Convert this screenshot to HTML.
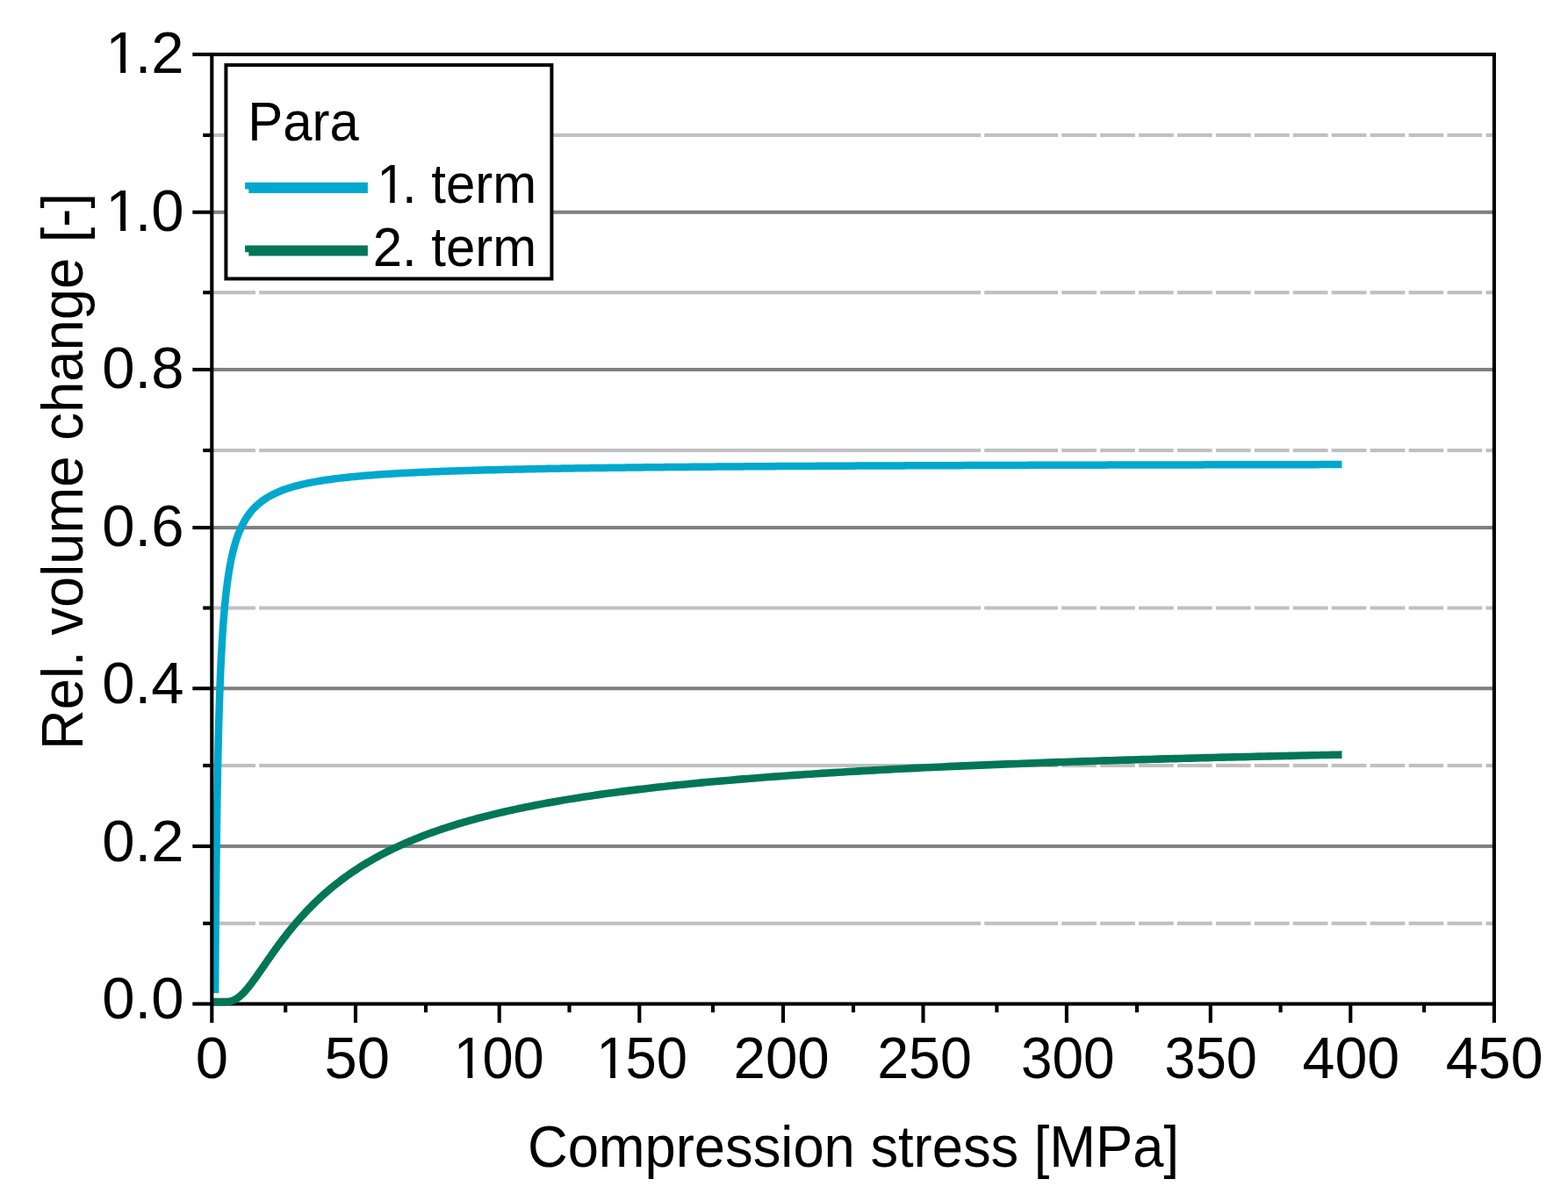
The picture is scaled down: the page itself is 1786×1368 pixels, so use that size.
<!DOCTYPE html>
<html><head><meta charset="utf-8"><title>Rel. volume change vs compression stress</title>
<style>html,body{margin:0;padding:0;background:#fff;overflow:hidden}svg{display:block}</style>
</head><body>
<svg width="1786" height="1368" viewBox="0 0 1786 1368"><rect width="1786" height="1368" fill="#fff"/><rect x="241.30" y="239.65" width="1460.60" height="4.10" fill="#808080"/><rect x="241.30" y="418.95" width="1460.60" height="4.10" fill="#808080"/><rect x="241.30" y="598.95" width="1460.60" height="4.10" fill="#808080"/><rect x="241.30" y="782.15" width="1460.60" height="4.10" fill="#808080"/><rect x="241.30" y="961.85" width="1460.60" height="4.10" fill="#808080"/><rect x="241.30" y="151.95" width="49.70" height="4.10" fill="#c0c0c0"/><rect x="295.20" y="151.95" width="821.80" height="4.10" fill="#c0c0c0"/><rect x="1121.20" y="151.95" width="83.80" height="4.10" fill="#c0c0c0"/><rect x="1209.20" y="151.95" width="39.73" height="4.10" fill="#c0c0c0"/><rect x="1253.13" y="151.95" width="39.73" height="4.10" fill="#c0c0c0"/><rect x="1297.06" y="151.95" width="39.73" height="4.10" fill="#c0c0c0"/><rect x="1340.99" y="151.95" width="39.73" height="4.10" fill="#c0c0c0"/><rect x="1384.92" y="151.95" width="39.73" height="4.10" fill="#c0c0c0"/><rect x="1428.85" y="151.95" width="39.73" height="4.10" fill="#c0c0c0"/><rect x="1472.78" y="151.95" width="39.73" height="4.10" fill="#c0c0c0"/><rect x="1516.71" y="151.95" width="39.73" height="4.10" fill="#c0c0c0"/><rect x="1560.64" y="151.95" width="39.73" height="4.10" fill="#c0c0c0"/><rect x="1604.57" y="151.95" width="39.73" height="4.10" fill="#c0c0c0"/><rect x="1648.50" y="151.95" width="39.73" height="4.10" fill="#c0c0c0"/><rect x="1692.43" y="151.95" width="9.47" height="4.10" fill="#c0c0c0"/><rect x="241.30" y="331.15" width="49.70" height="4.10" fill="#c0c0c0"/><rect x="295.20" y="331.15" width="821.80" height="4.10" fill="#c0c0c0"/><rect x="1121.20" y="331.15" width="83.80" height="4.10" fill="#c0c0c0"/><rect x="1209.20" y="331.15" width="39.73" height="4.10" fill="#c0c0c0"/><rect x="1253.13" y="331.15" width="39.73" height="4.10" fill="#c0c0c0"/><rect x="1297.06" y="331.15" width="39.73" height="4.10" fill="#c0c0c0"/><rect x="1340.99" y="331.15" width="39.73" height="4.10" fill="#c0c0c0"/><rect x="1384.92" y="331.15" width="39.73" height="4.10" fill="#c0c0c0"/><rect x="1428.85" y="331.15" width="39.73" height="4.10" fill="#c0c0c0"/><rect x="1472.78" y="331.15" width="39.73" height="4.10" fill="#c0c0c0"/><rect x="1516.71" y="331.15" width="39.73" height="4.10" fill="#c0c0c0"/><rect x="1560.64" y="331.15" width="39.73" height="4.10" fill="#c0c0c0"/><rect x="1604.57" y="331.15" width="39.73" height="4.10" fill="#c0c0c0"/><rect x="1648.50" y="331.15" width="39.73" height="4.10" fill="#c0c0c0"/><rect x="1692.43" y="331.15" width="9.47" height="4.10" fill="#c0c0c0"/><rect x="241.30" y="510.95" width="49.70" height="4.10" fill="#c0c0c0"/><rect x="295.20" y="510.95" width="821.80" height="4.10" fill="#c0c0c0"/><rect x="1121.20" y="510.95" width="83.80" height="4.10" fill="#c0c0c0"/><rect x="1209.20" y="510.95" width="39.73" height="4.10" fill="#c0c0c0"/><rect x="1253.13" y="510.95" width="39.73" height="4.10" fill="#c0c0c0"/><rect x="1297.06" y="510.95" width="39.73" height="4.10" fill="#c0c0c0"/><rect x="1340.99" y="510.95" width="39.73" height="4.10" fill="#c0c0c0"/><rect x="1384.92" y="510.95" width="39.73" height="4.10" fill="#c0c0c0"/><rect x="1428.85" y="510.95" width="39.73" height="4.10" fill="#c0c0c0"/><rect x="1472.78" y="510.95" width="39.73" height="4.10" fill="#c0c0c0"/><rect x="1516.71" y="510.95" width="39.73" height="4.10" fill="#c0c0c0"/><rect x="1560.64" y="510.95" width="39.73" height="4.10" fill="#c0c0c0"/><rect x="1604.57" y="510.95" width="39.73" height="4.10" fill="#c0c0c0"/><rect x="1648.50" y="510.95" width="39.73" height="4.10" fill="#c0c0c0"/><rect x="1692.43" y="510.95" width="9.47" height="4.10" fill="#c0c0c0"/><rect x="241.30" y="690.45" width="49.70" height="4.10" fill="#c0c0c0"/><rect x="295.20" y="690.45" width="821.80" height="4.10" fill="#c0c0c0"/><rect x="1121.20" y="690.45" width="83.80" height="4.10" fill="#c0c0c0"/><rect x="1209.20" y="690.45" width="39.73" height="4.10" fill="#c0c0c0"/><rect x="1253.13" y="690.45" width="39.73" height="4.10" fill="#c0c0c0"/><rect x="1297.06" y="690.45" width="39.73" height="4.10" fill="#c0c0c0"/><rect x="1340.99" y="690.45" width="39.73" height="4.10" fill="#c0c0c0"/><rect x="1384.92" y="690.45" width="39.73" height="4.10" fill="#c0c0c0"/><rect x="1428.85" y="690.45" width="39.73" height="4.10" fill="#c0c0c0"/><rect x="1472.78" y="690.45" width="39.73" height="4.10" fill="#c0c0c0"/><rect x="1516.71" y="690.45" width="39.73" height="4.10" fill="#c0c0c0"/><rect x="1560.64" y="690.45" width="39.73" height="4.10" fill="#c0c0c0"/><rect x="1604.57" y="690.45" width="39.73" height="4.10" fill="#c0c0c0"/><rect x="1648.50" y="690.45" width="39.73" height="4.10" fill="#c0c0c0"/><rect x="1692.43" y="690.45" width="9.47" height="4.10" fill="#c0c0c0"/><rect x="241.30" y="869.95" width="49.70" height="4.10" fill="#c0c0c0"/><rect x="295.20" y="869.95" width="821.80" height="4.10" fill="#c0c0c0"/><rect x="1121.20" y="869.95" width="83.80" height="4.10" fill="#c0c0c0"/><rect x="1209.20" y="869.95" width="39.73" height="4.10" fill="#c0c0c0"/><rect x="1253.13" y="869.95" width="39.73" height="4.10" fill="#c0c0c0"/><rect x="1297.06" y="869.95" width="39.73" height="4.10" fill="#c0c0c0"/><rect x="1340.99" y="869.95" width="39.73" height="4.10" fill="#c0c0c0"/><rect x="1384.92" y="869.95" width="39.73" height="4.10" fill="#c0c0c0"/><rect x="1428.85" y="869.95" width="39.73" height="4.10" fill="#c0c0c0"/><rect x="1472.78" y="869.95" width="39.73" height="4.10" fill="#c0c0c0"/><rect x="1516.71" y="869.95" width="39.73" height="4.10" fill="#c0c0c0"/><rect x="1560.64" y="869.95" width="39.73" height="4.10" fill="#c0c0c0"/><rect x="1604.57" y="869.95" width="39.73" height="4.10" fill="#c0c0c0"/><rect x="1648.50" y="869.95" width="39.73" height="4.10" fill="#c0c0c0"/><rect x="1692.43" y="869.95" width="9.47" height="4.10" fill="#c0c0c0"/><rect x="241.30" y="1049.75" width="49.70" height="4.10" fill="#c0c0c0"/><rect x="295.20" y="1049.75" width="821.80" height="4.10" fill="#c0c0c0"/><rect x="1121.20" y="1049.75" width="83.80" height="4.10" fill="#c0c0c0"/><rect x="1209.20" y="1049.75" width="39.73" height="4.10" fill="#c0c0c0"/><rect x="1253.13" y="1049.75" width="39.73" height="4.10" fill="#c0c0c0"/><rect x="1297.06" y="1049.75" width="39.73" height="4.10" fill="#c0c0c0"/><rect x="1340.99" y="1049.75" width="39.73" height="4.10" fill="#c0c0c0"/><rect x="1384.92" y="1049.75" width="39.73" height="4.10" fill="#c0c0c0"/><rect x="1428.85" y="1049.75" width="39.73" height="4.10" fill="#c0c0c0"/><rect x="1472.78" y="1049.75" width="39.73" height="4.10" fill="#c0c0c0"/><rect x="1516.71" y="1049.75" width="39.73" height="4.10" fill="#c0c0c0"/><rect x="1560.64" y="1049.75" width="39.73" height="4.10" fill="#c0c0c0"/><rect x="1604.57" y="1049.75" width="39.73" height="4.10" fill="#c0c0c0"/><rect x="1648.50" y="1049.75" width="39.73" height="4.10" fill="#c0c0c0"/><rect x="1692.43" y="1049.75" width="9.47" height="4.10" fill="#c0c0c0"/><path d="M245.13,1131.36 L245.13,1131.16 L245.14,1130.96 L245.14,1130.75 L245.14,1130.54 L245.14,1130.33 L245.14,1130.12 L245.14,1129.90 L245.14,1129.68 L245.14,1129.45 L245.15,1129.23 L245.15,1128.99 L245.15,1128.76 L245.15,1128.52 L245.15,1128.27 L245.15,1128.03 L245.15,1127.78 L245.16,1127.52 L245.16,1127.26 L245.16,1127.00 L245.16,1126.73 L245.16,1126.46 L245.16,1126.18 L245.17,1125.90 L245.17,1125.62 L245.17,1125.33 L245.17,1125.04 L245.17,1124.74 L245.18,1124.43 L245.18,1124.13 L245.18,1123.82 L245.18,1123.50 L245.18,1123.18 L245.19,1122.85 L245.19,1122.52 L245.19,1122.18 L245.19,1121.84 L245.19,1121.49 L245.20,1121.13 L245.20,1120.78 L245.20,1120.41 L245.20,1120.04 L245.21,1119.67 L245.21,1119.28 L245.21,1118.90 L245.21,1118.50 L245.22,1118.11 L245.22,1117.70 L245.22,1117.29 L245.22,1116.87 L245.23,1116.45 L245.23,1116.02 L245.23,1115.58 L245.23,1115.14 L245.24,1114.69 L245.24,1114.23 L245.24,1113.76 L245.25,1113.29 L245.25,1112.82 L245.25,1112.33 L245.26,1111.84 L245.26,1111.34 L245.26,1110.83 L245.27,1110.32 L245.27,1109.79 L245.27,1109.26 L245.28,1108.72 L245.28,1108.18 L245.28,1107.62 L245.29,1107.06 L245.29,1106.49 L245.30,1105.91 L245.30,1105.33 L245.30,1104.73 L245.31,1104.13 L245.31,1103.51 L245.32,1102.89 L245.32,1102.26 L245.33,1101.62 L245.33,1100.97 L245.33,1100.31 L245.34,1099.64 L245.34,1098.96 L245.35,1098.28 L245.35,1097.58 L245.36,1096.87 L245.36,1096.16 L245.37,1095.43 L245.37,1094.69 L245.38,1093.94 L245.38,1093.19 L245.39,1092.42 L245.40,1091.64 L245.40,1090.85 L245.41,1090.05 L245.41,1089.24 L245.42,1088.41 L245.42,1087.58 L245.43,1086.73 L245.44,1085.88 L245.44,1085.01 L245.45,1084.13 L245.46,1083.23 L245.46,1082.33 L245.47,1081.41 L245.48,1080.49 L245.48,1079.54 L245.49,1078.59 L245.50,1077.63 L245.51,1076.65 L245.51,1075.66 L245.52,1074.65 L245.53,1073.64 L245.54,1072.61 L245.54,1071.56 L245.55,1070.51 L245.56,1069.44 L245.57,1068.35 L245.58,1067.26 L245.59,1066.15 L245.60,1065.02 L245.61,1063.88 L245.61,1062.73 L245.62,1061.57 L245.63,1060.38 L245.64,1059.19 L245.65,1057.98 L245.66,1056.76 L245.67,1055.52 L245.68,1054.26 L245.69,1053.00 L245.71,1051.71 L245.72,1050.42 L245.73,1049.10 L245.74,1047.77 L245.75,1046.43 L245.76,1045.07 L245.77,1043.70 L245.79,1042.31 L245.80,1040.90 L245.81,1039.48 L245.82,1038.05 L245.84,1036.60 L245.85,1035.13 L245.86,1033.64 L245.88,1032.15 L245.89,1030.63 L245.91,1029.10 L245.92,1027.55 L245.93,1025.99 L245.95,1024.41 L245.96,1022.81 L245.98,1021.20 L246.00,1019.58 L246.01,1017.93 L246.03,1016.27 L246.04,1014.60 L246.06,1012.90 L246.08,1011.20 L246.10,1009.47 L246.11,1007.73 L246.13,1005.97 L246.15,1004.20 L246.17,1002.41 L246.19,1000.61 L246.21,998.78 L246.23,996.95 L246.25,995.09 L246.27,993.22 L246.29,991.34 L246.31,989.44 L246.33,987.52 L246.35,985.59 L246.37,983.64 L246.39,981.68 L246.42,979.70 L246.44,977.70 L246.46,975.69 L246.49,973.67 L246.51,971.63 L246.54,969.57 L246.56,967.50 L246.59,965.42 L246.61,963.32 L246.64,961.21 L246.67,959.08 L246.69,956.94 L246.72,954.78 L246.75,952.61 L246.78,950.43 L246.81,948.23 L246.84,946.02 L246.87,943.79 L246.90,941.56 L246.93,939.31 L246.96,937.05 L246.99,934.77 L247.03,932.49 L247.06,930.19 L247.10,927.88 L247.13,925.55 L247.16,923.22 L247.20,920.88 L247.24,918.52 L247.27,916.16 L247.31,913.78 L247.35,911.40 L247.39,909.00 L247.43,906.60 L247.47,904.18 L247.51,901.76 L247.55,899.33 L247.60,896.89 L247.64,894.44 L247.68,891.98 L247.73,889.52 L247.77,887.05 L247.82,884.57 L247.87,882.09 L247.91,879.60 L247.96,877.10 L248.01,874.60 L248.06,872.09 L248.11,869.58 L248.17,867.06 L248.22,864.54 L248.27,862.02 L248.33,859.49 L248.38,856.96 L248.44,854.42 L248.50,851.88 L248.56,849.34 L248.62,846.80 L248.68,844.26 L248.74,841.72 L248.80,839.17 L248.86,836.62 L248.93,834.08 L249.00,831.53 L249.06,828.99 L249.13,826.44 L249.20,823.90 L249.27,821.36 L249.34,818.82 L249.42,816.28 L249.49,813.75 L249.57,811.21 L249.64,808.68 L249.72,806.16 L249.80,803.64 L249.88,801.12 L249.96,798.61 L250.05,796.10 L250.13,793.60 L250.22,791.10 L250.31,788.61 L250.40,786.13 L250.49,783.65 L250.58,781.18 L250.67,778.71 L250.77,776.26 L250.87,773.81 L250.97,771.37 L251.07,768.93 L251.17,766.51 L251.27,764.09 L251.38,761.69 L251.49,759.29 L251.60,756.91 L251.71,754.53 L251.82,752.16 L251.94,749.81 L252.05,747.46 L252.17,745.13 L252.30,742.81 L252.42,740.49 L252.54,738.19 L252.67,735.91 L252.80,733.63 L252.93,731.37 L253.07,729.12 L253.20,726.88 L253.34,724.65 L253.49,722.44 L253.63,720.24 L253.78,718.06 L253.92,715.89 L254.08,713.73 L254.23,711.59 L254.39,709.46 L254.54,707.34 L254.71,705.24 L254.87,703.16 L255.04,701.08 L255.21,699.03 L255.38,696.99 L255.56,694.96 L255.74,692.95 L255.92,690.95 L256.10,688.97 L256.29,687.01 L256.49,685.06 L256.68,683.12 L256.88,681.21 L257.08,679.30 L257.29,677.42 L257.49,675.55 L257.71,673.69 L257.92,671.85 L258.14,670.03 L258.36,668.22 L258.59,666.43 L258.82,664.66 L259.06,662.90 L259.30,661.16 L259.54,659.43 L259.79,657.72 L260.04,656.03 L260.29,654.35 L260.55,652.69 L260.82,651.04 L261.09,649.42 L261.36,647.80 L261.64,646.21 L261.92,644.62 L262.21,643.06 L262.50,641.51 L262.80,639.98 L263.10,638.46 L263.41,636.96 L263.72,635.48 L264.04,634.01 L264.37,632.55 L264.70,631.12 L265.03,629.70 L265.37,628.29 L265.72,626.90 L266.07,625.52 L266.43,624.16 L266.79,622.82 L267.17,621.49 L267.54,620.17 L267.93,618.87 L268.32,617.59 L268.71,616.32 L269.12,615.07 L269.53,613.83 L269.95,612.60 L270.37,611.39 L270.80,610.19 L271.24,609.01 L271.69,607.84 L272.14,606.69 L272.61,605.55 L273.08,604.43 L273.55,603.31 L274.04,602.22 L274.53,601.13 L275.04,600.06 L275.55,599.00 L276.07,597.96 L276.60,596.93 L277.14,595.91 L277.69,594.90 L278.24,593.91 L278.81,592.93 L279.38,591.97 L279.97,591.01 L280.57,590.07 L281.17,589.14 L281.79,588.22 L282.42,587.32 L283.05,586.43 L283.70,585.54 L284.36,584.67 L285.03,583.82 L285.71,582.97 L286.41,582.13 L287.11,581.31 L287.83,580.50 L288.56,579.69 L289.30,578.90 L290.06,578.12 L290.83,577.35 L291.61,576.60 L292.40,575.85 L293.21,575.11 L294.03,574.38 L294.87,573.66 L295.72,572.95 L296.58,572.26 L297.46,571.57 L298.36,570.89 L299.27,570.22 L300.19,569.56 L301.14,568.91 L302.09,568.27 L303.07,567.64 L304.06,567.02 L305.06,566.40 L309.15,564.09 L313.25,562.04 L317.34,560.20 L321.43,558.55 L325.52,557.06 L329.61,555.71 L333.71,554.47 L337.80,553.34 L341.89,552.29 L345.98,551.33 L350.07,550.44 L354.16,549.61 L358.26,548.84 L362.35,548.12 L366.44,547.45 L370.53,546.82 L374.62,546.22 L378.71,545.67 L382.81,545.14 L386.90,544.64 L390.99,544.17 L395.08,543.73 L399.17,543.30 L403.27,542.90 L407.36,542.52 L411.45,542.16 L415.54,541.81 L419.63,541.48 L423.72,541.16 L427.82,540.86 L431.91,540.57 L436.00,540.29 L440.09,540.02 L444.18,539.77 L448.27,539.52 L452.37,539.28 L456.46,539.05 L460.55,538.83 L464.64,538.62 L468.73,538.42 L472.83,538.22 L476.92,538.03 L481.01,537.85 L485.10,537.67 L489.19,537.50 L493.28,537.33 L497.38,537.17 L501.47,537.01 L505.56,536.86 L509.65,536.71 L513.74,536.57 L517.83,536.43 L521.93,536.30 L526.02,536.17 L530.11,536.04 L534.20,535.92 L538.29,535.80 L542.39,535.68 L546.48,535.57 L550.57,535.46 L554.66,535.35 L558.75,535.24 L562.84,535.14 L566.94,535.04 L571.03,534.94 L575.12,534.85 L579.21,534.75 L583.30,534.66 L587.39,534.58 L591.49,534.49 L595.58,534.40 L599.67,534.32 L603.76,534.24 L607.85,534.16 L611.95,534.08 L616.04,534.01 L620.13,533.93 L624.22,533.86 L628.31,533.79 L632.40,533.72 L636.50,533.65 L640.59,533.59 L644.68,533.52 L648.77,533.46 L652.86,533.39 L656.95,533.33 L661.05,533.27 L665.14,533.21 L669.23,533.15 L673.32,533.10 L677.41,533.04 L681.51,532.99 L685.60,532.93 L689.69,532.88 L693.78,532.83 L697.87,532.78 L701.96,532.73 L706.06,532.68 L710.15,532.63 L714.24,532.58 L718.33,532.53 L722.42,532.49 L726.51,532.44 L730.61,532.40 L734.70,532.35 L738.79,532.31 L742.88,532.27 L746.97,532.23 L751.07,532.18 L755.16,532.14 L759.25,532.10 L763.34,532.07 L767.43,532.03 L771.52,531.99 L775.62,531.95 L779.71,531.91 L783.80,531.88 L787.89,531.84 L791.98,531.81 L796.07,531.77 L800.17,531.74 L804.26,531.70 L808.35,531.67 L812.44,531.64 L816.53,531.61 L820.63,531.57 L824.72,531.54 L828.81,531.51 L832.90,531.48 L836.99,531.45 L841.08,531.42 L845.18,531.39 L849.27,531.36 L853.36,531.33 L857.45,531.31 L861.54,531.28 L865.63,531.25 L869.73,531.22 L873.82,531.20 L877.91,531.17 L882.00,531.14 L886.09,531.12 L890.18,531.09 L894.28,531.07 L898.37,531.04 L902.46,531.02 L906.55,530.99 L910.64,530.97 L914.74,530.95 L918.83,530.92 L922.92,530.90 L927.01,530.88 L931.10,530.85 L935.19,530.83 L939.29,530.81 L943.38,530.79 L947.47,530.77 L951.56,530.74 L955.65,530.72 L959.74,530.70 L963.84,530.68 L967.93,530.66 L972.02,530.64 L976.11,530.62 L980.20,530.60 L984.30,530.58 L988.39,530.56 L992.48,530.54 L996.57,530.52 L1000.66,530.51 L1004.75,530.49 L1008.85,530.47 L1012.94,530.45 L1017.03,530.43 L1021.12,530.42 L1025.21,530.40 L1029.30,530.38 L1033.40,530.36 L1037.49,530.35 L1041.58,530.33 L1045.67,530.31 L1049.76,530.30 L1053.86,530.28 L1057.95,530.26 L1062.04,530.25 L1066.13,530.23 L1070.22,530.22 L1074.31,530.20 L1078.41,530.19 L1082.50,530.17 L1086.59,530.16 L1090.68,530.14 L1094.77,530.13 L1098.86,530.11 L1102.96,530.10 L1107.05,530.08 L1111.14,530.07 L1115.23,530.05 L1119.32,530.04 L1123.42,530.03 L1127.51,530.01 L1131.60,530.00 L1135.69,529.98 L1139.78,529.97 L1143.87,529.96 L1147.97,529.94 L1152.06,529.93 L1156.15,529.92 L1160.24,529.91 L1164.33,529.89 L1168.42,529.88 L1172.52,529.87 L1176.61,529.86 L1180.70,529.84 L1184.79,529.83 L1188.88,529.82 L1192.98,529.81 L1197.07,529.80 L1201.16,529.78 L1205.25,529.77 L1209.34,529.76 L1213.43,529.75 L1217.53,529.74 L1221.62,529.73 L1225.71,529.72 L1229.80,529.70 L1233.89,529.69 L1237.98,529.68 L1242.08,529.67 L1246.17,529.66 L1250.26,529.65 L1254.35,529.64 L1258.44,529.63 L1262.54,529.62 L1266.63,529.61 L1270.72,529.60 L1274.81,529.59 L1278.90,529.58 L1282.99,529.57 L1287.09,529.56 L1291.18,529.55 L1295.27,529.54 L1299.36,529.53 L1303.45,529.52 L1307.54,529.51 L1311.64,529.50 L1315.73,529.49 L1319.82,529.48 L1323.91,529.47 L1328.00,529.46 L1332.10,529.45 L1336.19,529.45 L1340.28,529.44 L1344.37,529.43 L1348.46,529.42 L1352.55,529.41 L1356.65,529.40 L1360.74,529.39 L1364.83,529.38 L1368.92,529.38 L1373.01,529.37 L1377.10,529.36 L1381.20,529.35 L1385.29,529.34 L1389.38,529.33 L1393.47,529.33 L1397.56,529.32 L1401.66,529.31 L1405.75,529.30 L1409.84,529.29 L1413.93,529.28 L1418.02,529.28 L1422.11,529.27 L1426.21,529.26 L1430.30,529.25 L1434.39,529.25 L1438.48,529.24 L1442.57,529.23 L1446.66,529.22 L1450.76,529.22 L1454.85,529.21 L1458.94,529.20 L1463.03,529.19 L1467.12,529.19 L1471.22,529.18 L1475.31,529.17 L1479.40,529.17 L1483.49,529.16 L1487.58,529.15 L1491.67,529.14 L1495.77,529.14 L1499.86,529.13 L1503.95,529.12 L1508.04,529.12 L1512.13,529.11 L1516.22,529.10 L1520.32,529.10 L1524.41,529.09 L1528.50,529.08" fill="none" stroke="#00a8cd" stroke-width="8.5" stroke-linejoin="round"/><rect x="219.30" y="59.95" width="1484.65" height="4.10" fill="#000"/><rect x="219.30" y="1141.45" width="1484.65" height="4.10" fill="#000"/><rect x="1699.85" y="59.95" width="4.10" height="1105.05" fill="#000"/><rect x="323.15" y="1143.50" width="4.10" height="9.70" fill="#000"/><rect x="402.95" y="1143.50" width="4.10" height="21.50" fill="#000"/><rect x="482.95" y="1143.50" width="4.10" height="9.70" fill="#000"/><rect x="566.65" y="1143.50" width="4.10" height="21.50" fill="#000"/><rect x="646.45" y="1143.50" width="4.10" height="9.70" fill="#000"/><rect x="726.25" y="1143.50" width="4.10" height="21.50" fill="#000"/><rect x="809.95" y="1143.50" width="4.10" height="9.70" fill="#000"/><rect x="889.95" y="1143.50" width="4.10" height="21.50" fill="#000"/><rect x="969.95" y="1143.50" width="4.10" height="9.70" fill="#000"/><rect x="1049.45" y="1143.50" width="4.10" height="21.50" fill="#000"/><rect x="1133.35" y="1143.50" width="4.10" height="9.70" fill="#000"/><rect x="1212.85" y="1143.50" width="4.10" height="21.50" fill="#000"/><rect x="1292.95" y="1143.50" width="4.10" height="9.70" fill="#000"/><rect x="1376.75" y="1143.50" width="4.10" height="21.50" fill="#000"/><rect x="1456.55" y="1143.50" width="4.10" height="9.70" fill="#000"/><rect x="1536.25" y="1143.50" width="4.10" height="21.50" fill="#000"/><rect x="1620.05" y="1143.50" width="4.10" height="9.70" fill="#000"/><rect x="219.30" y="239.65" width="22.00" height="4.10" fill="#000"/><rect x="219.30" y="418.95" width="22.00" height="4.10" fill="#000"/><rect x="219.30" y="598.95" width="22.00" height="4.10" fill="#000"/><rect x="219.30" y="782.15" width="22.00" height="4.10" fill="#000"/><rect x="219.30" y="961.85" width="22.00" height="4.10" fill="#000"/><rect x="231.20" y="151.95" width="10.10" height="4.10" fill="#000"/><rect x="231.20" y="331.15" width="10.10" height="4.10" fill="#000"/><rect x="231.20" y="510.95" width="10.10" height="4.10" fill="#000"/><rect x="231.20" y="690.45" width="10.10" height="4.10" fill="#000"/><rect x="231.20" y="869.95" width="10.10" height="4.10" fill="#000"/><rect x="231.20" y="1049.75" width="10.10" height="4.10" fill="#000"/><path d="M241.30,1141.10 L243.30,1141.10 L245.30,1141.10 L247.30,1141.10 L249.30,1141.10 L251.30,1141.10 L253.30,1141.10 L255.30,1141.09 L257.30,1141.04 L259.30,1140.91 L261.30,1140.66 L262.00,1140.53 L262.50,1140.43 L263.00,1140.31 L263.50,1140.18 L264.00,1140.03 L264.50,1139.88 L265.00,1139.70 L265.50,1139.52 L266.00,1139.32 L266.50,1139.10 L267.00,1138.87 L267.50,1138.62 L268.00,1138.36 L268.50,1138.08 L269.00,1137.79 L269.50,1137.49 L270.00,1137.16 L270.50,1136.83 L271.00,1136.48 L271.50,1136.11 L272.00,1135.73 L272.50,1135.34 L273.00,1134.93 L273.50,1134.51 L274.00,1134.08 L274.50,1133.63 L275.00,1133.17 L275.50,1132.70 L276.00,1132.22 L276.50,1131.73 L277.00,1131.22 L277.50,1130.70 L278.00,1130.18 L278.50,1129.64 L279.00,1129.09 L279.50,1128.53 L280.00,1127.97 L280.50,1127.39 L281.00,1126.81 L281.50,1126.22 L282.00,1125.62 L282.50,1125.01 L283.00,1124.39 L283.50,1123.77 L284.00,1123.14 L284.50,1122.51 L285.00,1121.87 L285.50,1121.22 L286.00,1120.57 L286.50,1119.91 L287.00,1119.24 L287.50,1118.58 L288.00,1117.90 L288.50,1117.23 L289.00,1116.55 L289.50,1115.86 L290.00,1115.17 L290.50,1114.48 L291.00,1113.78 L291.50,1113.09 L292.00,1112.39 L292.50,1111.68 L293.00,1110.98 L293.50,1110.27 L294.00,1109.56 L294.50,1108.85 L295.00,1108.13 L295.50,1107.42 L296.00,1106.70 L296.50,1105.99 L297.00,1105.27 L297.50,1104.55 L298.00,1103.83 L298.50,1103.11 L299.00,1102.39 L299.50,1101.66 L300.00,1100.94 L300.50,1100.22 L301.00,1099.50 L301.50,1098.78 L302.00,1098.05 L302.50,1097.33 L303.00,1096.61 L303.50,1095.89 L304.00,1095.17 L304.50,1094.45 L305.00,1093.73 L305.50,1093.02 L306.00,1092.30 L306.50,1091.58 L307.00,1090.87 L307.50,1090.16 L308.00,1089.44 L308.50,1088.73 L309.00,1088.02 L309.50,1087.32 L310.00,1086.61 L310.50,1085.90 L311.00,1085.20 L311.50,1084.50 L312.00,1083.80 L312.50,1083.10 L313.00,1082.40 L313.50,1081.71 L314.00,1081.01 L314.50,1080.32 L315.00,1079.63 L315.50,1078.94 L316.00,1078.26 L316.50,1077.57 L317.00,1076.89 L317.50,1076.21 L318.00,1075.54 L318.50,1074.86 L319.00,1074.19 L319.50,1073.52 L320.00,1072.85 L322.00,1070.19 L324.00,1067.58 L326.00,1065.00 L328.00,1062.46 L330.00,1059.95 L332.00,1057.49 L334.00,1055.06 L336.00,1052.68 L338.00,1050.33 L340.00,1048.02 L342.00,1045.75 L344.00,1043.52 L346.00,1041.32 L348.00,1039.17 L350.00,1037.05 L352.00,1034.96 L354.00,1032.92 L356.00,1030.90 L358.00,1028.93 L360.00,1026.98 L362.00,1025.07 L364.00,1023.19 L366.00,1021.35 L368.00,1019.53 L370.00,1017.75 L372.00,1016.00 L374.00,1014.28 L376.00,1012.58 L378.00,1010.92 L380.00,1009.28 L382.00,1007.67 L384.00,1006.09 L386.00,1004.53 L388.00,1003.00 L390.00,1001.49 L392.00,1000.01 L394.00,998.56 L396.00,997.12 L398.00,995.71 L400.00,994.32 L402.00,992.96 L404.00,991.61 L406.00,990.29 L408.00,988.99 L410.00,987.71 L412.00,986.45 L414.00,985.20 L416.00,983.98 L418.00,982.77 L420.00,981.59 L422.00,980.42 L424.00,979.27 L426.00,978.13 L428.00,977.01 L430.00,975.91 L432.00,974.83 L434.00,973.76 L436.00,972.70 L438.00,971.67 L440.00,970.64 L442.00,969.63 L444.00,968.64 L446.00,967.66 L448.00,966.69 L450.00,965.73 L452.00,964.79 L454.00,963.86 L456.00,962.95 L458.00,962.04 L460.00,961.15 L462.00,960.27 L464.00,959.41 L466.00,958.55 L468.00,957.71 L470.00,956.87 L472.00,956.05 L474.00,955.24 L476.00,954.43 L478.00,953.64 L480.00,952.86 L482.00,952.09 L484.00,951.32 L486.00,950.57 L488.00,949.83 L490.00,949.09 L492.00,948.37 L494.00,947.65 L496.00,946.94 L498.00,946.24 L500.00,945.55 L502.00,944.87 L504.00,944.19 L506.00,943.53 L508.00,942.87 L510.00,942.22 L512.00,941.57 L514.00,940.94 L516.00,940.31 L518.00,939.69 L520.00,939.07 L522.00,938.46 L524.00,937.86 L526.00,937.27 L528.00,936.68 L530.00,936.10 L532.00,935.52 L534.00,934.95 L536.00,934.39 L538.00,933.83 L540.00,933.28 L542.00,932.74 L544.00,932.20 L546.00,931.67 L548.00,931.14 L550.00,930.62 L552.00,930.10 L554.00,929.59 L556.00,929.08 L558.00,928.58 L560.00,928.09 L562.00,927.60 L564.00,927.11 L566.00,926.63 L568.00,926.15 L570.00,925.68 L572.00,925.22 L574.00,924.75 L576.00,924.30 L578.00,923.84 L580.00,923.40 L582.00,922.95 L584.00,922.51 L586.00,922.08 L588.00,921.64 L590.00,921.22 L592.00,920.79 L594.00,920.37 L596.00,919.96 L598.00,919.55 L600.00,919.14 L606.00,917.94 L612.00,916.77 L618.00,915.63 L624.00,914.53 L630.00,913.45 L636.00,912.40 L642.00,911.38 L648.00,910.38 L654.00,909.41 L660.00,908.46 L666.00,907.53 L672.00,906.63 L678.00,905.75 L684.00,904.88 L690.00,904.04 L696.00,903.22 L702.00,902.42 L708.00,901.63 L714.00,900.86 L720.00,900.11 L726.00,899.37 L732.00,898.65 L738.00,897.95 L744.00,897.26 L750.00,896.58 L756.00,895.92 L762.00,895.27 L768.00,894.64 L774.00,894.02 L780.00,893.41 L786.00,892.81 L792.00,892.22 L798.00,891.65 L804.00,891.08 L810.00,890.53 L816.00,889.98 L822.00,889.45 L828.00,888.93 L834.00,888.41 L840.00,887.91 L846.00,887.41 L852.00,886.92 L858.00,886.45 L864.00,885.97 L870.00,885.51 L876.00,885.06 L882.00,884.61 L888.00,884.17 L894.00,883.74 L900.00,883.31 L906.00,882.90 L912.00,882.48 L918.00,882.08 L924.00,881.68 L930.00,881.29 L936.00,880.90 L942.00,880.52 L948.00,880.15 L954.00,879.78 L960.00,879.42 L966.00,879.06 L972.00,878.71 L978.00,878.36 L984.00,878.02 L990.00,877.69 L996.00,877.35 L1002.00,877.03 L1008.00,876.71 L1014.00,876.39 L1020.00,876.08 L1026.00,875.77 L1032.00,875.46 L1038.00,875.16 L1044.00,874.87 L1050.00,874.57 L1056.00,874.29 L1062.00,874.00 L1068.00,873.72 L1074.00,873.45 L1080.00,873.17 L1086.00,872.90 L1092.00,872.64 L1098.00,872.38 L1104.00,872.12 L1110.00,871.86 L1116.00,871.61 L1122.00,871.36 L1128.00,871.11 L1134.00,870.87 L1140.00,870.63 L1146.00,870.39 L1152.00,870.16 L1158.00,869.93 L1164.00,869.70 L1170.00,869.47 L1176.00,869.25 L1182.00,869.03 L1188.00,868.81 L1194.00,868.60 L1200.00,868.38 L1206.00,868.17 L1212.00,867.96 L1218.00,867.76 L1224.00,867.55 L1230.00,867.35 L1236.00,867.16 L1242.00,866.96 L1248.00,866.76 L1254.00,866.57 L1260.00,866.38 L1266.00,866.19 L1272.00,866.01 L1278.00,865.82 L1284.00,865.64 L1290.00,865.46 L1296.00,865.28 L1302.00,865.11 L1308.00,864.93 L1314.00,864.76 L1320.00,864.59 L1326.00,864.42 L1332.00,864.25 L1338.00,864.09 L1344.00,863.93 L1350.00,863.76 L1356.00,863.60 L1362.00,863.44 L1368.00,863.29 L1374.00,863.13 L1380.00,862.98 L1386.00,862.82 L1392.00,862.67 L1398.00,862.52 L1404.00,862.38 L1410.00,862.23 L1416.00,862.08 L1422.00,861.94 L1428.00,861.80 L1434.00,861.66 L1440.00,861.52 L1446.00,861.38 L1452.00,861.24 L1458.00,861.10 L1464.00,860.97 L1470.00,860.83 L1476.00,860.70 L1482.00,860.57 L1488.00,860.44 L1494.00,860.31 L1500.00,860.19 L1506.00,860.06 L1512.00,859.93 L1518.00,859.81 L1524.00,859.69 L1528.50,859.59" fill="none" stroke="#027657" stroke-width="8.6" stroke-linejoin="round"/><rect x="239.25" y="59.95" width="4.10" height="1105.05" fill="#000"/><rect x="257.4" y="74.1" width="371.0" height="243.4" fill="#fff" stroke="#000" stroke-width="4"/><path d="M279.1,207.8 H418.9 V219.9 H283.3 V215.5 H279.1 Z" fill="#00a8cd"/><path d="M279.1,279.6 H418.9 V291.5 H283.3 V287.2 H279.1 Z" fill="#027657"/><g font-family='"Liberation Sans", Arial, sans-serif' fill="#000"><text x="116.36" y="82.9" font-size="67" text-anchor="start" dx="4.00 -4.00">1.2</text><text x="116.36" y="262.9" font-size="67" text-anchor="start" dx="4.00 -4.00">1.0</text><text x="209.5" y="441.8" font-size="67" text-anchor="end">0.8</text><text x="209.5" y="621.6" font-size="67" text-anchor="end">0.6</text><text x="209.5" y="801.0" font-size="67" text-anchor="end">0.4</text><text x="209.5" y="980.9" font-size="67" text-anchor="end">0.2</text><text x="209.5" y="1160.4" font-size="67" text-anchor="end">0.0</text><text x="241.3" y="1227.9" font-size="67" text-anchor="middle">0</text><text x="406.7" y="1227.9" font-size="67" text-anchor="middle">50</text><text transform="translate(514.32,1227.9) scale(0.9420,1)" font-size="67" text-anchor="start" dx="2.65 -2.65">100</text><text transform="translate(677.28,1227.9) scale(0.9460,1)" font-size="67" text-anchor="start" dx="2.11 -2.11">150</text><text transform="translate(890.1,1227.9) scale(0.9770,1)" font-size="67" text-anchor="middle">200</text><text transform="translate(1053.02,1227.9) scale(0.9640,1)" font-size="67" text-anchor="middle">250</text><text transform="translate(1216.28,1227.9) scale(0.9550,1)" font-size="67" text-anchor="middle">300</text><text transform="translate(1379.18,1227.9) scale(0.9420,1)" font-size="67" text-anchor="middle">350</text><text transform="translate(1538.9,1227.9) scale(0.9900,1)" font-size="67" text-anchor="middle">400</text><text transform="translate(1702.19,1227.9) scale(0.9900,1)" font-size="67" text-anchor="middle">450</text><text transform="translate(972,1328.5) scale(0.9521,1)" font-size="66.5" text-anchor="middle">Compression stress [MPa]</text><text transform="translate(93.5,537) rotate(-90) scale(0.9534,1)" font-size="66.5" text-anchor="middle">Rel. volume change [-]</text><text transform="translate(282.3,159.5) scale(0.9505,1)" font-size="63" text-anchor="start">Para</text><text transform="translate(424.7,231.2) scale(0.9513,1)" font-size="63" text-anchor="start" dx="4.73 -4.73">1. term</text><text transform="translate(424.7,303.0) scale(0.9513,1)" font-size="63" text-anchor="start">2. term</text></g><rect x="124.29" y="77.19" width="12.86" height="6.71" fill="#fff"/><rect x="143.20" y="77.19" width="12.50" height="6.71" fill="#fff"/><rect x="124.29" y="257.19" width="12.86" height="6.71" fill="#fff"/><rect x="143.20" y="257.19" width="12.50" height="6.71" fill="#fff"/><rect x="520.51" y="1222.19" width="12.11" height="6.71" fill="#fff"/><rect x="538.33" y="1222.19" width="11.77" height="6.71" fill="#fff"/><rect x="682.99" y="1222.19" width="12.16" height="6.71" fill="#fff"/><rect x="700.88" y="1222.19" width="11.82" height="6.71" fill="#fff"/><rect x="432.71" y="225.79" width="11.50" height="6.41" fill="#fff"/><rect x="449.62" y="225.79" width="11.18" height="6.41" fill="#fff"/></svg>
</body></html>
